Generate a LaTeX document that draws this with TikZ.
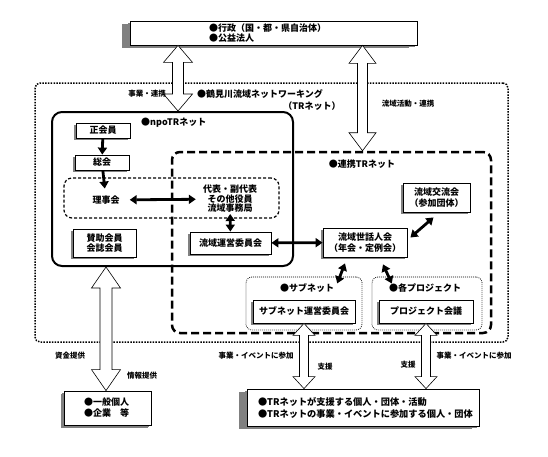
\documentclass[tikz,border=0pt]{standalone}
\usepackage{fontspec}
\newfontfamily\cjk{Noto Sans CJK JP}
\usetikzlibrary{arrows.meta,calc,shadows}

% hollow two-headed arrow: top point, bottom point, head half width, shaft half width, head length
\newcommand{\hollowarrow}[5]{%
  \draw[hollow] let \p1=#1, \p2=#2 in
    (\x1,\y1) -- (\x1+#3,\y1-#5) -- (\x1+#4,\y1-#5) -- (\x1+#4,\y2+#5) -- (\x1+#3,\y2+#5) -- (\x1,\y2)
    -- (\x1-#3,\y2+#5) -- (\x1-#4,\y2+#5) -- (\x1-#4,\y1-#5) -- (\x1-#3,\y1-#5) -- cycle;}

\begin{document}
\begin{tikzpicture}[x=1pt,y=-1pt,
  every node/.style={font=\cjk\bfseries\fontsize{9}{10}\selectfont, inner sep=0pt},
  box/.style={draw, fill=white, line width=.8pt, align=center,
    drop shadow={shadow xshift=-2pt, shadow yshift=-2pt, fill=gray, opacity=1}},
  bigbox/.style={box, align=left,
    drop shadow={shadow xshift=-8pt, shadow yshift=-2.5pt, fill=gray, opacity=1}},
  lbl/.style={font=\cjk\bfseries\fontsize{7.5}{9}\selectfont},
  thickarr/.style={line width=2.8pt, {Triangle[length=7pt,width=9pt]}-{Triangle[length=7pt,width=9pt]}},
  onearr/.style={line width=2.8pt, -{Triangle[length=7pt,width=9pt]}},
  hollow/.style={draw, fill=white, line width=.6pt},
]
\useasboundingbox (0,0) rectangle (548,456);

% frames
\node[draw, line width=1.5pt, dash pattern=on 1.5pt off 1.3pt, rounded corners=5pt,
  minimum width=473pt, minimum height=259pt] (tr) at (271.5,212.5) {};
\node[draw, line width=2pt, rounded corners=10pt,
  minimum width=241pt, minimum height=154pt] (npo) at (172.5,189) {};
\node[draw, line width=2.5pt, dash pattern=on 8pt off 4pt, rounded corners=8pt,
  minimum width=319pt, minimum height=181pt] (renkei) at (331.5,242.5) {};
\node[draw, line width=1.2pt, dash pattern=on 3pt off 2pt, rounded corners=8pt,
  minimum width=215pt, minimum height=40pt] (jiji) at (171.5,198) {};
\node[draw, line width=.8pt, dash pattern=on .8pt off 1.2pt, rounded corners=6pt,
  minimum width=116pt, minimum height=53pt] (subnet) at (304,303.5) {};
\node[draw, line width=.8pt, dash pattern=on .8pt off 1.2pt, rounded corners=6pt,
  minimum width=110pt, minimum height=53pt] (project) at (427,303.5) {};

% titles
\node[anchor=west, font=\cjk\bfseries\fontsize{9}{10}\selectfont] (trtitle) at (197,94) {●鶴見川流域ネットワーキング};
\node[font=\cjk\bfseries\fontsize{9}{10}\selectfont] (trsub) at (312,106) {（TRネット）};
\node[anchor=west] (npotitle) at (141,123) {●npoTRネット};
\node (renkeititle) at (362,164) {●連携TRネット};
\node (subtitle) at (307,288) {●サブネット};
\node (projtitle) at (425,288) {●各プロジェクト};

% boxes
\node[bigbox, inner xsep=79pt, inner ysep=0pt, text width=129pt, minimum height=24pt,
  font=\cjk\bfseries\fontsize{9}{8.5}\selectfont] (gyousei) at (273.5,33)
  {●行政（国・都・県自治体）\\●公益法人};
\node[box, minimum width=54pt, minimum height=15pt] (seikai) at (103,130.5) {正会員};
\node[box, minimum width=54pt, minimum height=15pt] (soukai) at (102,162.5) {総会};
\node[inner xsep=10pt, inner ysep=7pt] (riji) at (106,200) {理事会};
\node[inner xsep=7pt, inner ysep=1pt, align=center, font=\cjk\bfseries\fontsize{9}{9.5}\selectfont] (daihyou) at (230,199)
  {代表・副代表\\その他役員\\流域事務局};
\node[box, minimum width=81pt, minimum height=22pt] (unei) at (230.5,243) {流域運営委員会};
\node[box, minimum width=63pt, minimum height=28pt] (sanjo) at (104.5,243) {賛助会員\\会誌会員};
\node[box, minimum width=67pt, minimum height=29pt, font=\cjk\bfseries\fontsize{9}{11}\selectfont] (kouryu) at (436.5,197.5)
  {流域交流会\\（参加団体）};
\node[box, minimum width=84pt, minimum height=29pt, font=\cjk\bfseries\fontsize{9}{11.5}\selectfont] (sewa) at (365,242.5)
  {流域世話人会\\（年会・定例会）};
\node[box, minimum width=102pt, minimum height=23pt] (subunei) at (304,311.5) {サブネット運営委員会};
\node[box, minimum width=94pt, minimum height=23pt] (projkaigi) at (426,311.5) {プロジェクト会議};
\node[bigbox, inner xsep=11pt, inner ysep=0pt, text width=210pt, minimum height=37pt,
  font=\cjk\bfseries\fontsize{9.2}{12}\selectfont,
  drop shadow={shadow xshift=-7pt, shadow yshift=-3pt, fill=gray, opacity=1}] (shien) at (363,407.5)
  {●TRネットが支援する個人・団体・活動\\●TRネットの事業・イベントに参加する個人・団体};
\node[box, align=left, inner xsep=20pt, text width=47pt, minimum height=34pt,
  font=\cjk\bfseries\fontsize{9}{11}\selectfont,
  drop shadow={shadow xshift=-3pt, shadow yshift=-3pt, fill=gray, opacity=1}] (ippan) at (107.5,408)
  {●一般個人\\●企業　等};

% black arrows
\draw[onearr] (seikai) -- (soukai);
\draw[onearr] (soukai) -- (riji);
\draw[thickarr] (riji) -- (daihyou);
\draw[thickarr] (daihyou) -- (unei);
\draw[thickarr] (unei) -- (sewa);
\draw[thickarr] ($(sewa.east)+(3,-5)$) -- ($(kouryu.south)+(-3,5)$);
\draw[thickarr] ($(sewa.south)+(-20,6)$) -- ($(subtitle.north east)+(3,0)$);
\draw[thickarr] ($(sewa.south)+(18,7)$) -- ($(projtitle.north west)+(3,0)$);

% hollow arrows
\hollowarrow{($(gyousei.south)+(-95.5,0)$)}{(npo.north)}{14.5pt}{5.5pt}{17pt}
\hollowarrow{($(gyousei.south)+(89,0)$)}{(renkei.north)}{13.5pt}{5pt}{18pt}
\hollowarrow{($(npo.south)+(-66.5,0)$)}{(ippan.north)}{14.5pt}{6pt}{21pt}
\hollowarrow{(subunei.south)}{(shien.north)}{11pt}{4.5pt}{12pt}
\hollowarrow{(projkaigi.south)}{(shien.north)}{11pt}{4.5pt}{12pt}

% labels
\node[lbl] (l1) at (147,94) {事業・連携};
\node[lbl] (l2) at (408,104) {流域活動・連携};
\node[lbl] (l3) at (70,356) {資金提供};
\node[lbl] (l4) at (142,376) {情報提供};
\node[lbl] (l5) at (256,356) {事業・イベントに参加};
\node[lbl] (l6) at (325,367) {支援};
\node[lbl] (l7) at (408,365) {支援};
\node[lbl] (l8) at (474,356) {事業・イベントに参加};
\end{tikzpicture}
\end{document}
